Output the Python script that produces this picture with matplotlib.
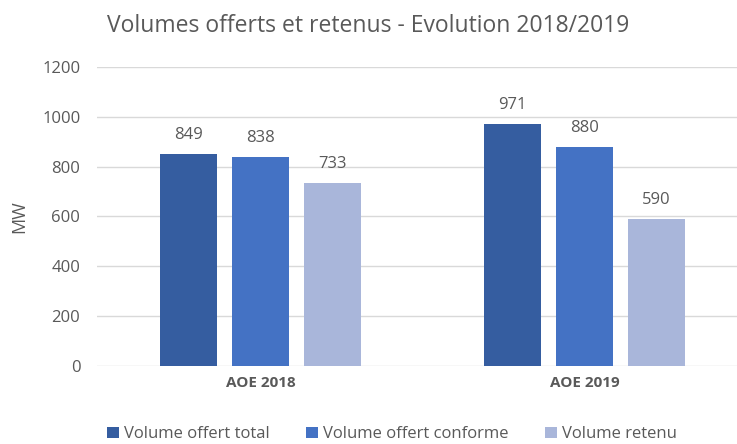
import numpy as np
import matplotlib.pyplot as plt

categories = ['AOE 2018', 'AOE 2019']
series_names = ['Volume offert total', 'Volume offert conforme', 'Volume retenu']
offert_total = [849, 971]
offert_conforme = [838, 880]
retenu = [733, 590]
colors = ['#355DA0', '#4472C4', '#A9B6DA']

text_color = '#595959'
plt.rcParams['font.family'] = ['Open Sans', 'DejaVu Sans']

fig = plt.figure(figsize=(7.37, 4.44), dpi=100)
ax = fig.add_axes([97 / 737, 78 / 444, 640 / 737, 299 / 444])

x = np.arange(len(categories))
width = 0.176
step = 0.222
for i, (vals, name) in enumerate(zip([offert_total, offert_conforme, retenu], series_names)):
    bars = ax.bar(x + (i - 1) * step, vals, width, color=colors[i], label=name)
    for b, v in zip(bars, vals):
        ax.text(b.get_x() + b.get_width() / 2, v + 45, str(v), ha='center', va='bottom',
                fontsize=12, color=text_color)

ax.set_ylim(0, 1200)
ax.set_xlim(-0.505, -0.505 + 640 / 324)
ax.set_yticks(range(0, 1201, 200))
ax.yaxis.grid(True, color='#D9D9D9', linewidth=1)
ax.set_axisbelow(True)
for s in ax.spines.values():
    s.set_visible(False)
ax.tick_params(axis='y', length=0, labelsize=12, labelcolor=text_color, pad=12)
ax.tick_params(axis='x', length=0, pad=7)
ax.set_xticks(x)
ax.set_xticklabels(categories, fontsize=11, fontweight='bold', color=text_color)
ax.set_ylabel('MW', fontsize=13, color=text_color, labelpad=10)

fig.text(0.5, 0.942, 'Volumes offerts et retenus - Evolution 2018/2019', ha='center', va='center',
         fontsize=16.5, color=text_color)
fig.legend(loc='center', bbox_to_anchor=(0.532, 0.022), ncol=3, frameon=False, fontsize=12,
           handlelength=0.7, handleheight=0.7, handletextpad=0.3, columnspacing=2.2,
           labelcolor=text_color)

fig.savefig('out.png', dpi=100)
